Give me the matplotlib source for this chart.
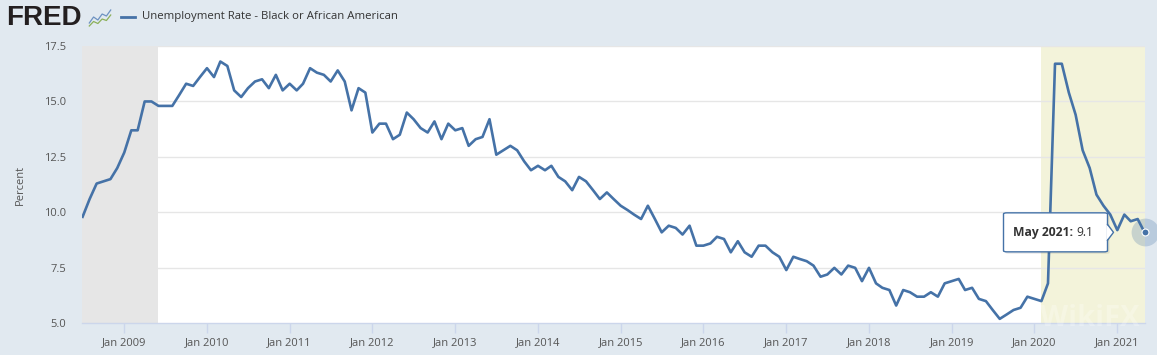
import numpy as np
import pandas as pd
import matplotlib
matplotlib.use('Agg')
import matplotlib.pyplot as plt
import matplotlib.dates as mdates
from matplotlib.patches import FancyBboxPatch, Polygon

plt.rcParams['font.family'] = ['Open Sans', 'DejaVu Sans']

# monthly values, Jul 2008 - May 2021 (percent)
rate = [
    9.8, 10.6, 11.3, 11.4, 11.5, 12.0,                                   # 2008
    12.7, 13.7, 13.7, 15.0, 15.0, 14.8, 14.8, 14.8, 15.3, 15.8, 15.7, 16.1,  # 2009
    16.5, 16.1, 16.8, 16.6, 15.5, 15.2, 15.6, 15.9, 16.0, 15.6, 16.2, 15.5,  # 2010
    15.8, 15.5, 15.8, 16.5, 16.3, 16.2, 15.9, 16.4, 15.9, 14.6, 15.6, 15.4,  # 2011
    13.6, 14.0, 14.0, 13.3, 13.5, 14.5, 14.2, 13.8, 13.6, 14.1, 13.3, 14.0,  # 2012
    13.7, 13.8, 13.0, 13.3, 13.4, 14.2, 12.6, 12.8, 13.0, 12.8, 12.3, 11.9,  # 2013
    12.1, 11.9, 12.1, 11.6, 11.4, 11.0, 11.6, 11.4, 11.0, 10.6, 10.9, 10.6,  # 2014
    10.3, 10.1, 9.9, 9.7, 10.3, 9.7, 9.1, 9.4, 9.3, 9.0, 9.4, 8.5,          # 2015
    8.5, 8.6, 8.9, 8.8, 8.2, 8.7, 8.2, 8.0, 8.5, 8.5, 8.2, 8.0,             # 2016
    7.4, 8.0, 7.9, 7.8, 7.6, 7.1, 7.2, 7.5, 7.2, 7.6, 7.5, 6.9,             # 2017
    7.5, 6.8, 6.6, 6.5, 5.8, 6.5, 6.4, 6.2, 6.2, 6.4, 6.2, 6.8,             # 2018
    6.9, 7.0, 6.5, 6.6, 6.1, 6.0, 5.6, 5.2, 5.4, 5.6, 5.7, 6.2,             # 2019
    6.1, 6.0, 6.8, 16.7, 16.7, 15.4, 14.4, 12.8, 12.0, 10.8, 10.3, 9.9,     # 2020
    9.2, 9.9, 9.6, 9.7, 9.1,                                             # 2021
]
dates = pd.date_range('2008-07-01', periods=len(rate), freq='MS')

recessions = [('2007-12-01', '2009-06-01'), ('2020-02-01', '2021-05-01')]
recession_colors = ['#e6e6e6', '#f3f3da']
year_ticks = list(range(2009, 2022))
y_ticks = [5.0, 7.5, 10.0, 12.5, 15.0, 17.5]

blue = '#4572a7'
bg = '#e1e9f0'

fig = plt.figure(figsize=(11.57, 3.55), dpi=100, facecolor=bg)
ax = fig.add_axes([0.0706, 0.0893, 0.9186, 0.7811])
ax.set_facecolor('white')

x = mdates.date2num(dates)
x0 = mdates.date2num(pd.Timestamp('2008-06-27'))
x1 = x[-1]
ax.set_xlim(x0, x1)
ax.set_ylim(5.0, 17.5)

for (s, e), c in zip(recessions, recession_colors):
    ax.axvspan(max(mdates.date2num(pd.Timestamp(s)), x0),
               min(mdates.date2num(pd.Timestamp(e)), x1), color=c, lw=0, zorder=0)

for v in y_ticks[1:]:
    ax.axhline(v, color='#e6e6e6', lw=1, zorder=1)

ax.plot(x, rate, color=blue, lw=1.9, zorder=3, solid_joinstyle='round')

# last point highlight
ax.plot(x[-1], rate[-1], 'o', ms=20, color=blue, alpha=0.25, mec='none', clip_on=False, zorder=4)
ax.plot(x[-1], rate[-1], 'o', ms=5, color=blue, mec='white', mew=0.8, clip_on=False, zorder=5)

for sp in ['top', 'right', 'left']:
    ax.spines[sp].set_visible(False)
ax.spines['bottom'].set_color('#ccd6eb')
ax.spines['bottom'].set_linewidth(1)

ax.set_xticks([mdates.date2num(pd.Timestamp(f'{y}-01-01')) for y in year_ticks])
ax.set_xticklabels([f'Jan {y}' for y in year_ticks])
ax.set_yticks(y_ticks)
ax.set_yticklabels([f'{v:.1f}' for v in y_ticks])
ax.tick_params(axis='x', length=7, color='#ccd6eb', width=1, pad=3, labelsize=8, labelcolor='#555555')
ax.tick_params(axis='y', length=0, pad=11, labelsize=8, labelcolor='#555555')

fig.text(20 / 1157, 1 - 185 / 355, 'Percent', rotation=90, ha='center', va='center',
         fontsize=8, color='#555555')

# header
fig.text(6 / 1157, 1 - 18 / 355, 'FRED', fontsize=20, fontweight='bold', color='#231f20',
         family='Liberation Sans', ha='left', va='center')
icon = fig.add_axes([88 / 1157, 1 - 28 / 355, 24 / 1157, 20 / 355])
icon.set_facecolor('#e8edf2')
icon.plot([0, 1, 2, 3, 4, 5], [1, 2.2, 1.6, 2.8, 2.4, 3.6], color='#6d92c1', lw=0.9)
icon.plot([0, 1, 2, 3, 4, 5], [0.4, 1.3, 0.9, 1.8, 1.5, 2.6], color='#8cb05a', lw=0.9)
icon.set_xlim(-0.3, 5.3)
icon.set_ylim(0, 4)
icon.axis('off')

fig.add_artist(plt.Line2D([121 / 1157, 135 / 1157], [1 - 17 / 355, 1 - 17 / 355],
                          color=blue, lw=2))
fig.text(142 / 1157, 1 - 17 / 355, 'Unemployment Rate - Black or African American',
         fontsize=8.2, color='#333333', ha='left', va='center')

# tooltip for the last observation
fig.canvas.draw()
px, py = ax.transData.transform((x[-1], rate[-1]))
W, H = fig.bbox.width, fig.bbox.height
bl, br = px - 141, px - 37
bb, bt = py - 19.5, py + 19.5
shadow = FancyBboxPatch(((bl + 2) / W, (bb - 2) / H), (br - bl) / W, (bt - bb) / H,
                        boxstyle='round,pad=0,rounding_size=0.003', transform=fig.transFigure,
                        fc='#000000', ec='none', alpha=0.08, zorder=9)
box = FancyBboxPatch((bl / W, bb / H), (br - bl) / W, (bt - bb) / H,
                     boxstyle='round,pad=0,rounding_size=0.003', transform=fig.transFigure,
                     fc='white', ec=blue, lw=1, zorder=10)
notch = Polygon([((br - 1) / W, (py + 8) / H), ((br + 6) / W, py / H), ((br - 1) / W, (py - 8) / H)],
                closed=True, transform=fig.transFigure, fc='white', ec='none', zorder=11)
fig.add_artist(shadow)
fig.add_artist(box)
fig.add_artist(notch)
fig.add_artist(plt.Line2D([br / W, (br + 6) / W, br / W], [(py + 8) / H, py / H, (py - 8) / H],
                          color=blue, lw=1, transform=fig.transFigure, zorder=12))
fig.text((px - 71) / W, py / H, 'May 2021:', fontsize=8.7, fontweight='bold', color='#333333',
         ha='right', va='center', zorder=13)
fig.text((px - 68) / W, py / H, f'{rate[-1]:.1f}', fontsize=8.7, color='#333333',
         ha='left', va='center', zorder=13)

# faint watermark
fig.text(1090 / 1157, 1 - 318 / 355, 'WikiFX', fontsize=21, fontweight='bold', color='white',
         alpha=0.25, ha='center', va='center', zorder=20)

fig.savefig('out.png', dpi=100, facecolor=bg)
